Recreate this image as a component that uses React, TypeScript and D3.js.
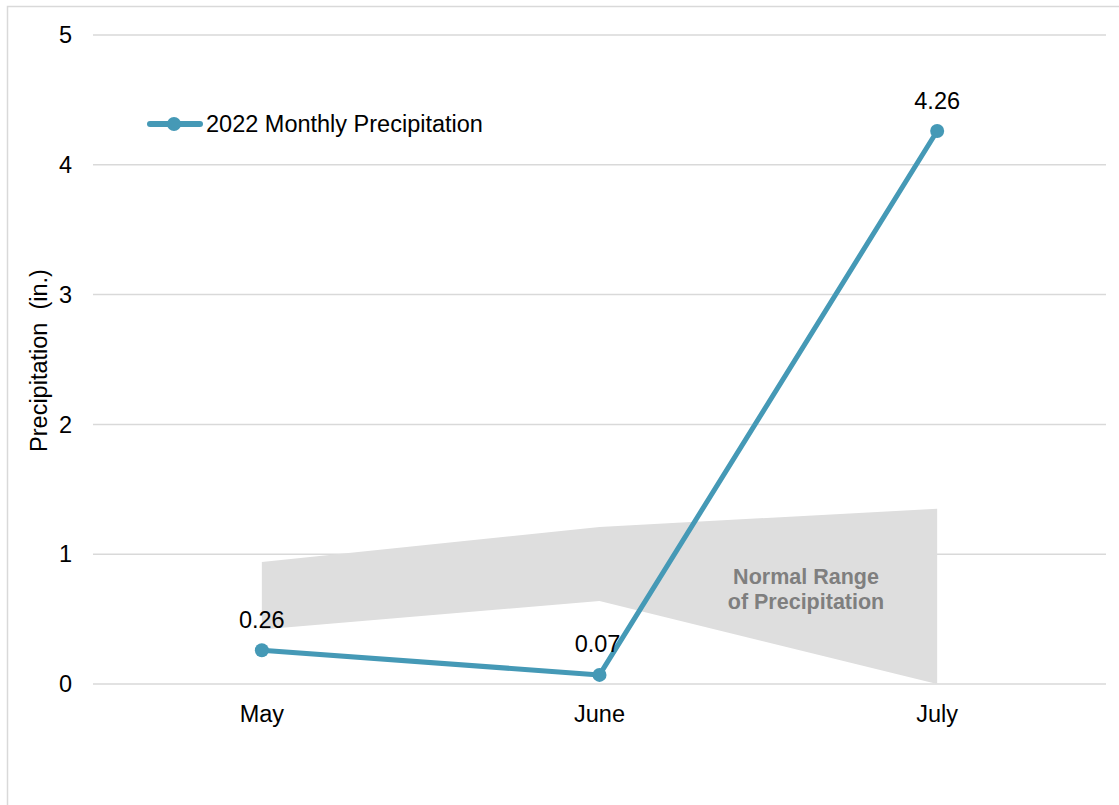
import React from 'react';
import * as d3 from 'd3';

const months = ["May", "June", "July"];
const precip2022 = [0.26, 0.07, 4.26];
const normalLow = [0.42, 0.64, 0.0];
const normalHigh = [0.94, 1.21, 1.35];
const yTicks = [0, 1, 2, 3, 4, 5];

const W = 1119;
const H = 805;
const plot = { left: 93, right: 1106, top: 35, bottom: 684 };
const lineColor = "#4599b6";
const font = "Arial, Liberation Sans, Helvetica, sans-serif";
const fs = 23.5;

const App = () => {
  const x = d3.scaleBand<string>()
    .domain(months)
    .range([plot.left, plot.right]);
  const cx = (m: string) => (x(m) as number) + x.bandwidth() / 2;

  const y = d3.scaleLinear()
    .domain([0, 5])
    .range([plot.bottom, plot.top]);

  const band = d3.area<number>()
    .x((d, i) => cx(months[i]))
    .y0((d, i) => y(normalLow[i]))
    .y1((d) => y(d));

  const line = d3.line<number>()
    .x((d, i) => cx(months[i]))
    .y((d) => y(d));

  // offsets for data labels, June label sits left of its point
  const labelDx = [0, -2, 0];

  return (
    <div style={{ position: "absolute", left: 0, top: 0 }}>
      <svg width={W} height={H} fontFamily={font} style={{ display: "block" }}>
        <rect x={7.5} y={6.5} width={W + 10} height={H + 10} fill="white" stroke="#d9d9d9" strokeWidth={1.5} />

        {/* grid */}
        {yTicks.map(t => (
          <g key={t}>
            <line x1={plot.left} x2={plot.right} y1={y(t)} y2={y(t)} stroke="#d9d9d9" strokeWidth={1.5} />
            <text x={72} y={y(t)} dy="0.35em" textAnchor="end" fontSize={fs} fill="#000">{t}</text>
          </g>
        ))}

        {/* normal range band */}
        <path d={band(normalHigh) || ""} fill="#dedede" />
        <text x={806} y={584} textAnchor="middle" fontSize={21.5} fontWeight="bold" fill="#7f7f7f">Normal Range</text>
        <text x={806} y={609} textAnchor="middle" fontSize={21.5} fontWeight="bold" fill="#7f7f7f">of Precipitation</text>

        {/* series */}
        <path d={line(precip2022) || ""} fill="none" stroke={lineColor} strokeWidth={5} strokeLinejoin="round" />
        {precip2022.map((v, i) => (
          <g key={months[i]}>
            <circle cx={cx(months[i])} cy={y(v)} r={7} fill={lineColor} />
            <text x={cx(months[i]) + labelDx[i]} y={y(v) - 22.5} textAnchor="middle" fontSize={fs} fill="#000">{v.toFixed(2)}</text>
          </g>
        ))}

        {/* x labels */}
        {months.map(m => (
          <text key={m} x={cx(m)} y={722} textAnchor="middle" fontSize={fs} fill="#000">{m}</text>
        ))}

        {/* y title */}
        <text transform={`translate(47, ${y(2.5) + 1}) rotate(-90)`} textAnchor="middle" fontSize={fs} fill="#000" style={{ whiteSpace: "pre" }}>
          {"Precipitation  (in.)"}
        </text>

        {/* legend */}
        <line x1={150} x2={200} y1={124} y2={124} stroke={lineColor} strokeWidth={6} strokeLinecap="round" />
        <circle cx={174} cy={124} r={7} fill={lineColor} />
        <text x={206} y={124} dy="0.35em" fontSize={fs} fill="#000">2022 Monthly Precipitation</text>
      </svg>
    </div>
  );
};

export default App;
